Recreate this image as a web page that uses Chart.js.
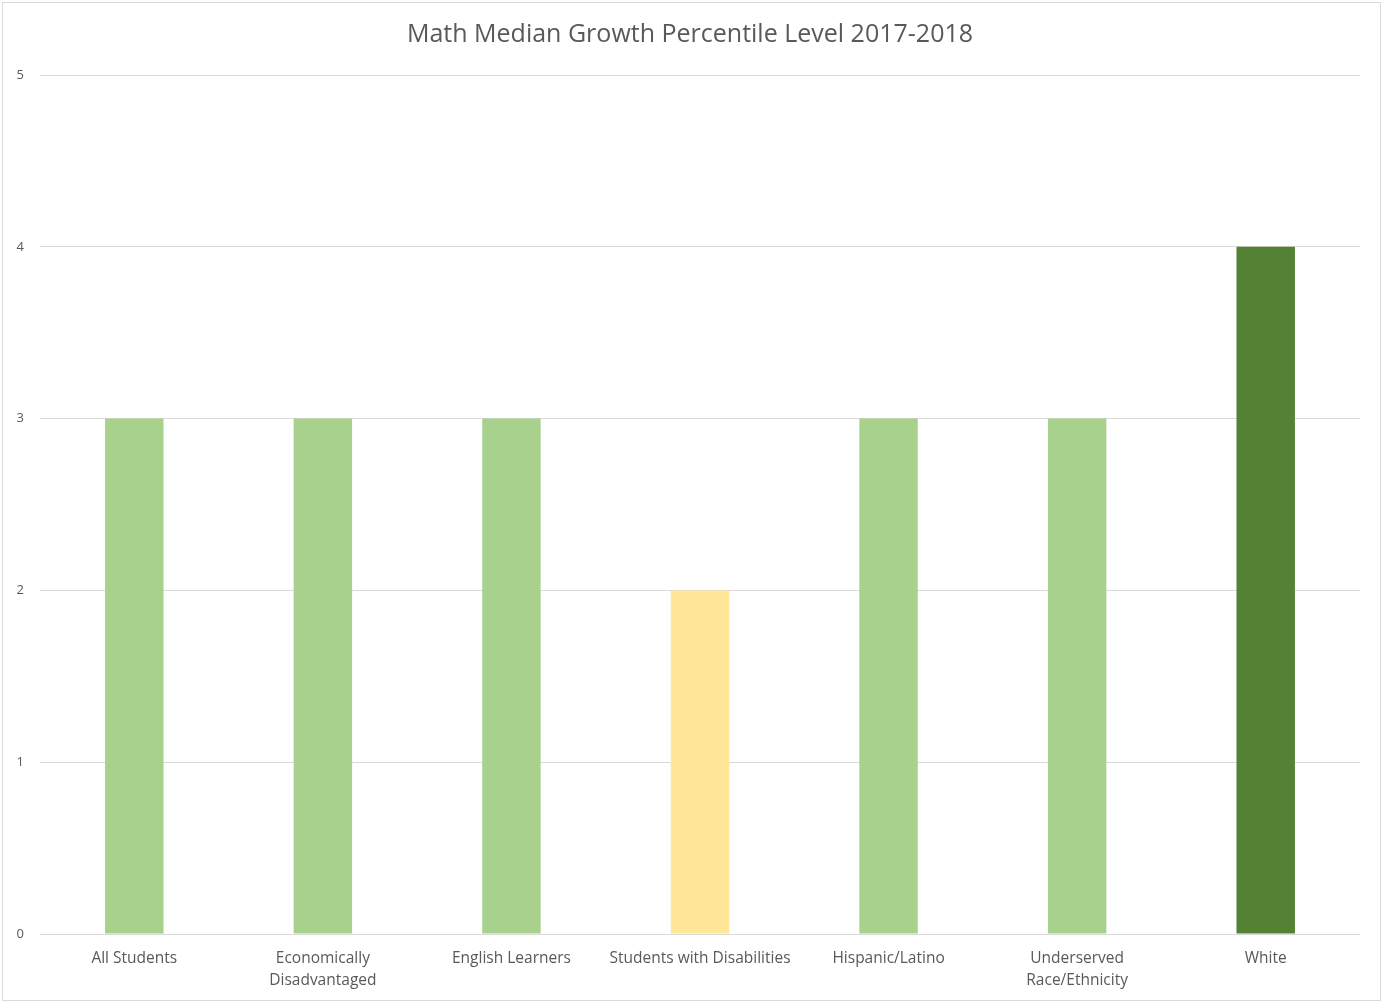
<!DOCTYPE html>
<html>
<head>
<meta charset="utf-8">
<script src="https://cdn.jsdelivr.net/npm/chart.js@4/dist/chart.umd.min.js"></script>
<style>
    html, body { margin: 0; padding: 0; background: #ffffff; }
    #frame {
        position: absolute;
        left: 2px;
        top: 2px;
        width: 1379px;
        height: 999px;
        box-sizing: border-box;
        border: 1px solid #d9d9d9;
        background: #ffffff;
    }
    #chart-mgp { display: block; }
</style>
</head>
<body>
<div id="frame">
    <canvas id="chart-mgp" width="1377" height="997"></canvas>
</div>
<script>
const chartTitle = "Math Median Growth Percentile Level 2017-2018";

const categories = [
    "All Students",
    ["Economically", "Disadvantaged"],
    "English Learners",
    "Students with Disabilities",
    "Hispanic/Latino",
    ["Underserved", "Race/Ethnicity"],
    "White"
];

const levels = [3, 3, 3, 2, 3, 3, 4];

const yTicks = [0, 1, 2, 3, 4, 5];

// Level colours: 2 = yellow, 3 = light green, 4 = dark green
const levelColors = { 2: "#ffe699", 3: "#a9d18e", 4: "#548235" };

document.addEventListener("DOMContentLoaded", () => {
    renderChart();
});

function renderChart() {
    const ctx = document.getElementById("chart-mgp").getContext("2d");
    const textColor = "#595959";
    const gridColor = "#d9d9d9";
    const fontFamily = "'Open Sans', 'Liberation Sans', sans-serif";

    new Chart(ctx, {
        type: 'bar',
        data: {
            labels: categories,
            datasets: [{
                data: levels,
                backgroundColor: levels.map(v => levelColors[v]),
                borderWidth: 0,
                categoryPercentage: 1.0,
                barPercentage: 0.31
            }]
        },
        options: {
            responsive: false,
            animation: false,
            layout: {
                padding: { left: 0, right: 3, top: 0, bottom: 6 }
            },
            scales: {
                x: {
                    grid: { display: false, drawTicks: false },
                    border: { display: false },
                    ticks: {
                        color: textColor,
                        font: { family: fontFamily, size: 15.5, lineHeight: 1.45 },
                        padding: 13,
                        maxRotation: 0,
                        autoSkip: false
                    },
                    afterFit: scale => { scale.height = 60; }
                },
                y: {
                    min: 0,
                    max: 5,
                    afterBuildTicks: scale => {
                        scale.ticks = yTicks.map(v => ({ value: v }));
                    },
                    grid: { color: gridColor, lineWidth: 1, drawTicks: false },
                    border: { display: false },
                    ticks: {
                        color: textColor,
                        font: { family: fontFamily, size: 13 },
                        padding: 16
                    },
                    afterFit: scale => { scale.width = 37; }
                },
                // empty right-hand gutter so the plot stops short of the frame
                gutter: {
                    type: 'linear',
                    position: 'right',
                    grid: { display: false, drawTicks: false },
                    border: { display: false },
                    ticks: { display: false },
                    afterFit: scale => { scale.width = 17; }
                }
            },
            plugins: {
                legend: { display: false },
                tooltip: { enabled: false },
                title: {
                    display: true,
                    text: chartTitle,
                    color: textColor,
                    font: { family: fontFamily, size: 25, weight: 'normal' },
                    padding: { top: 17, bottom: 25 }
                }
            }
        }
    });
}
</script>
</body>
</html>
